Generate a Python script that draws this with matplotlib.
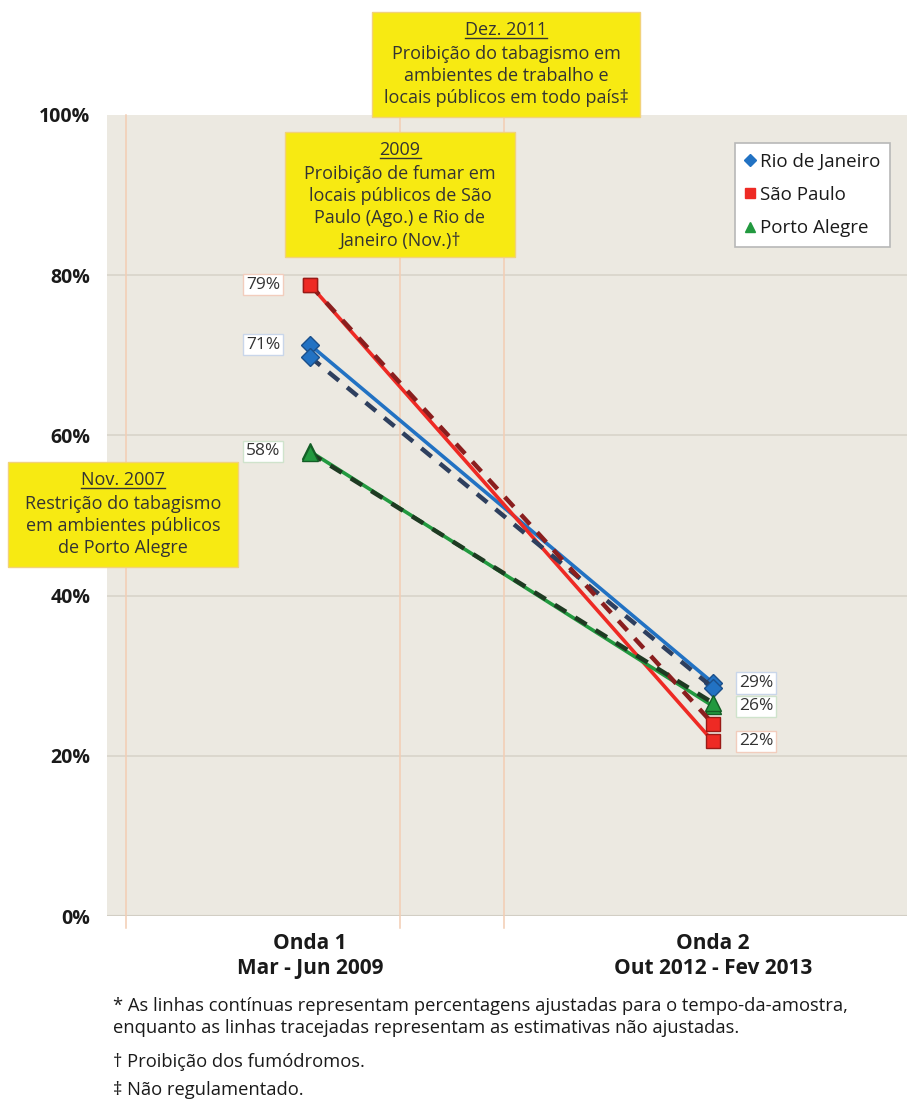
import matplotlib.pyplot as plt
from matplotlib.lines import Line2D
from matplotlib.patches import Rectangle

plt.rcParams['font.family'] = ['Open Sans', 'DejaVu Sans']

# categories (survey waves) and x positions
waves = ['Onda 1\nMar - Jun 2009', 'Onda 2\nOut 2012 - Fev 2013']
wave_x = [0, 1]

# adjusted (solid) and unadjusted (dashed) estimates, %
rj_adjusted = [71.3, 29.1]
sp_adjusted = [78.8, 21.8]
pa_adjusted = [58.0, 26.2]
rj_unadjusted = [69.8, 28.5]
sp_unadjusted = [78.8, 24.0]
pa_unadjusted = [57.8, 26.6]

cities = ['Rio de Janeiro', 'São Paulo', 'Porto Alegre']

# policy events: position on the x axis, heading, description
event_x = [-0.457, 0.223, 0.481]
event_heads = ['Nov. 2007', '2009', 'Dez. 2011']
event_bodies = [
    'Restrição do tabagismo\nem ambientes públicos\nde Porto Alegre',
    'Proibição de fumar em\nlocais públicos de São\nPaulo (Ago.) e Rio de\nJaneiro (Nov.)†',
    'Proibição do tabagismo em\nambientes de trabalho e\nlocais públicos em todo país‡',
]

footnotes = [
    '* As linhas contínuas representam percentagens ajustadas para o tempo-da-amostra,',
    'enquanto as linhas tracejadas representam as estimativas não ajustadas.',
    '† Proibição dos fumódromos.',
    '‡ Não regulamentado.',
]

W, H = 907, 1101
fig = plt.figure(figsize=(W / 100, H / 100), dpi=100)
ax = fig.add_axes([107 / W, 1 - 916 / H, 800 / W, (916 - 115) / H])
ax.set_facecolor('#ECE9E1')
for s in ax.spines.values():
    s.set_visible(False)

ax.set_ylim(0, 100)
ax.set_xlim(-203 / 403, 597 / 403)
ax.set_yticks([0, 20, 40, 60, 80, 100])
ax.set_yticklabels([f'{v}%' for v in range(0, 101, 20)], fontsize=14,
                   fontweight='bold', color='#1A1A1A')
ax.set_xticks(wave_x)
ax.set_xticklabels(waves, fontsize=15, fontweight='bold', color='#1A1A1A',
                   linespacing=1.25)
ax.tick_params(length=0)
ax.tick_params(axis='y', pad=12)
ax.tick_params(axis='x', pad=12)
for v in [20, 40, 60, 80]:
    ax.axhline(v, color='#D8D4CA', lw=1.2, zorder=1)
ax.axhline(0, color='#D2CEC4', lw=1.5, zorder=1)

for ex in event_x:
    ax.axvline(ex, ymin=-0.015, ymax=1, color='#F3CDB3', lw=1.1,
               zorder=1, clip_on=False)

colors = ['#2272C3', '#EE2A24', '#22993F']
edge = ['#1B4F8A', '#9A1A16', '#135E26']
dash_colors = ['#2E3F5E', '#8A1E1E', '#1E3A22']
markers = ['D', 's', '^']
msizes = [9, 10.5, 11]
adjusted = [rj_adjusted, sp_adjusted, pa_adjusted]
unadjusted = [rj_unadjusted, sp_unadjusted, pa_unadjusted]

for i in range(3):
    ax.plot(wave_x, adjusted[i], color=colors[i], lw=2.6, zorder=3,
            marker=markers[i], ms=msizes[i], mfc=colors[i], mec=edge[i], mew=1)
for i in range(3):
    ax.plot(wave_x, unadjusted[i], color=dash_colors[i], lw=3.2, zorder=4,
            dashes=(3.0, 2.4), marker=markers[i], ms=msizes[i],
            mfc=colors[i], mec=edge[i], mew=1)

label_edges = ['#C9D6EA', '#F2CDBD', '#CFE3CC']
for i in range(3):
    for j, xo in zip(wave_x, [-47, 43]):
        ax.annotate(f'{round(adjusted[i][j])}%', (wave_x[j], adjusted[i][j]),
                    xytext=(xo, 0), textcoords='offset pixels',
                    ha='center', va='center', fontsize=12.5, color='#333333',
                    zorder=6,
                    bbox=dict(boxstyle='square,pad=0.15', fc='white',
                              ec=label_edges[i], lw=1))

handles = [Line2D([], [], ls='none', marker=markers[i], ms=msizes[i] * 0.7,
                  mfc=colors[i], mec=colors[i]) for i in range(3)]
leg = ax.legend(handles, cities, loc='upper right',
                bbox_to_anchor=(890 / W, 1 - 143 / H),
                bbox_transform=fig.transFigure, borderaxespad=0,
                fontsize=13.5, frameon=True, fancybox=False, handlelength=0.6,
                handletextpad=0.25, labelspacing=0.82, borderpad=0.5,
                edgecolor='#B8B8B8', facecolor='white', framealpha=1)
leg.get_frame().set_linewidth(1.2)
for t in leg.get_texts():
    t.set_color('#1A1A1A')

# yellow event boxes (pixel layout: left, top, right, bottom)
boxes = [(8, 462, 238, 567), (285, 132, 515, 257), (372, 12, 640, 117)]
heads = []
for (x0, y0, x1, y1), head, body in zip(boxes, event_heads, event_bodies):
    fig.add_artist(Rectangle((x0 / W, 1 - y1 / H), (x1 - x0) / W,
                             (y1 - y0) / H, transform=fig.transFigure,
                             fc='#F7EA12', ec='#F2D27A', lw=1, zorder=10))
    cx = (x0 + x1) / 2 / W
    heads.append(fig.text(cx, 1 - (y0 + 18) / H, head, ha='center',
                          va='center', fontsize=13, color='#333333', zorder=11))
    fig.text(cx, 1 - (y0 + 33) / H, body, ha='center', va='top',
             fontsize=13, color='#333333', linespacing=1.3, zorder=11)

fig.canvas.draw()
r = fig.canvas.get_renderer()
for t in heads:
    bb = t.get_window_extent(r)
    fig.add_artist(Line2D([bb.x0 / W, bb.x1 / W], [(bb.y0 + 1) / H] * 2,
                          color='#333333', lw=1, zorder=12))

for line, yc in zip(footnotes, [1006, 1028, 1062, 1090]):
    fig.text(113 / W, 1 - yc / H, line, ha='left', va='center',
             fontsize=13.2, color='#1A1A1A')

fig.savefig('out.png', dpi=100)
